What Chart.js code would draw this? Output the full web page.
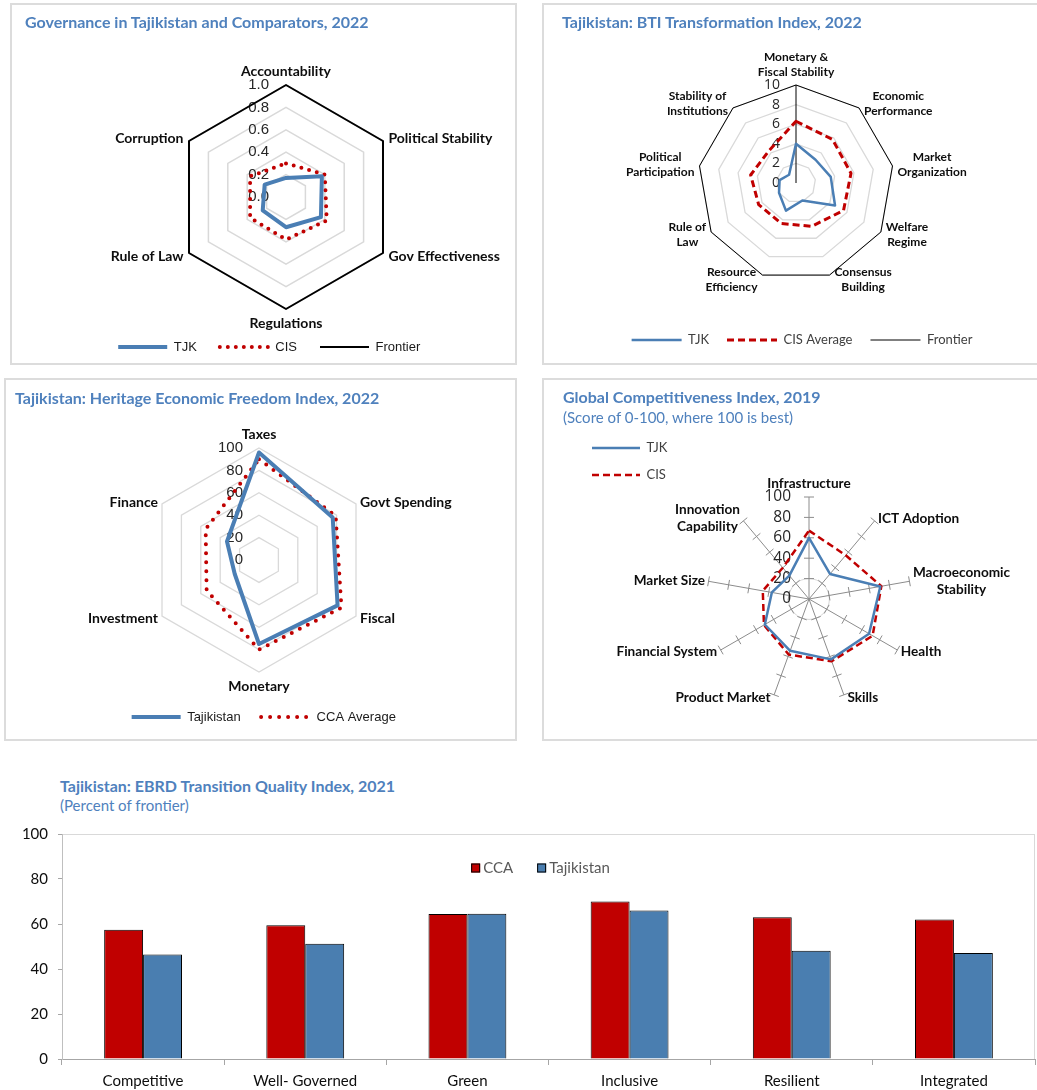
<!DOCTYPE html>
<html>
<head>
<meta charset="utf-8">
<script src="https://cdn.jsdelivr.net/npm/chart.js@4.4.0/dist/chart.umd.min.js"></script>
<style>
  body { margin: 0; width: 1037px; height: 1090px; overflow: hidden; background: #fff; position: relative; font-family: Lato, sans-serif; }
  .panel { position: absolute; overflow: hidden; box-shadow: inset 0 0 0 2px #dcdcdc; }
  .panel canvas { position: absolute; left: 0; top: 0; }
  .ttl { position: absolute; font: bold 16px Lato, sans-serif; line-height: 18px; color: #4F81BD; white-space: nowrap; }
  .sub { position: absolute; font: 15px Lato, sans-serif; line-height: 18px; color: #4F81BD; white-space: nowrap; }
</style>
</head>
<body>

<div class="panel" style="left:10px;top:3px;width:507px;height:362px"><canvas id="gov" width="507" height="362"></canvas></div>
<div class="panel" style="left:542px;top:3px;width:497px;height:362px"><canvas id="bti" width="497" height="362"></canvas></div>
<div class="panel" style="left:4px;top:378px;width:513px;height:363px"><canvas id="hef" width="513" height="363"></canvas></div>
<div class="panel" style="left:542px;top:378px;width:497px;height:363px"><canvas id="gci" width="497" height="363"></canvas></div>
<canvas id="ebrd" width="1037" height="275" style="position:absolute;left:0;top:815px"></canvas>

<div class="ttl" style="left:25px;top:13px">Governance in Tajikistan and Comparators, 2022</div>
<div class="ttl" style="left:562px;top:13px">Tajikistan: BTI Transformation Index, 2022</div>
<div class="ttl" style="left:15px;top:389px">Tajikistan: Heritage Economic Freedom Index, 2022</div>
<div class="ttl" style="left:563px;top:388px">Global Competitiveness Index, 2019</div>
<div class="sub" style="left:563px;top:408px">(Score of 0-100, where 100 is best)</div>
<div class="ttl" style="left:60px;top:777px">Tajikistan: EBRD Transition Quality Index, 2021</div>
<div class="sub" style="left:60px;top:796px">(Percent of frontier)</div>

<script>
// Governance indicators (0-1 scale)
var govCats = ['Accountability', 'Political Stability', 'Gov Effectiveness', 'Regulations', 'Rule of Law', 'Corruption'];
var govTJK = [0.17, 0.37, 0.36, 0.27, 0.24, 0.22];
var govCIS = [0.30, 0.40, 0.42, 0.38, 0.37, 0.37];
var govFrontier = [1, 1, 1, 1, 1, 1];

// BTI transformation index (0-10)
var btiCats = [['Monetary &', 'Fiscal Stability'], ['Economic', 'Performance'], ['Market', 'Organization'], ['Welfare', 'Regime'],
  ['Consensus', 'Building'], ['Resource', 'Efficiency'], ['Rule of', 'Law'], ['Political', 'Participation'], ['Stability of', 'Institutions']];
var btiTJK = [4.0, 3.1, 3.6, 4.6, 1.9, 3.0, 2.0, 1.7, 1.1];
var btiCIS = [6.3, 5.8, 5.7, 5.6, 4.7, 4.4, 4.4, 4.7, 4.3];
var btiFrontier = [10, 10, 10, 10, 10, 10, 10, 10, 10];

// Heritage economic freedom (0-100)
var hefCats = ['Taxes', 'Govt Spending', 'Fiscal', 'Monetary', 'Investment', 'Finance'];
var hefTJK = [96, 76, 81, 75, 25, 33];
var hefCCA = [90, 79, 85, 80, 54, 55];

// Global competitiveness index 2019 (0-100)
var gciCats = ['Infrastructure', 'ICT Adoption', ['Macroeconomic', 'Stability'], 'Health', 'Skills', 'Product Market',
  'Financial System', 'Market Size', ['Innovation', 'Capability']];
var gciTJK = [60, 32, 71, 68, 63, 54, 50, 37, 30];
var gciCIS = [67, 56, 72, 72, 65, 58, 51, 46, 40];

// EBRD transition quality (percent of frontier)
var ebrdCats = ['Competitive', 'Well- Governed', 'Green', 'Inclusive', 'Resilient', 'Integrated'];
var ebrdCCA = [57.5, 59.5, 64.5, 70.0, 63.0, 62.0];
var ebrdTJK = [46.5, 51.2, 64.6, 66.0, 48.1, 47.1];

var BLUE = '#4A7EB4', RED = '#C00000';

// put the radar centre and radius where the excel chart has them
function place(cx, cy, r) {
  return function(s) { s.xCenter = cx; s.yCenter = cy; s.drawingArea = r; };
}

// legend entries drawn as line samples with the dataset's dash
function lineLegend(color) {
  return function(chart) {
    return chart.data.datasets.map(function(d, i) {
      return {
        text: d.label, fontColor: color, fillStyle: 'rgba(0,0,0,0)',
        strokeStyle: d.borderColor, lineWidth: d.borderWidth,
        lineDash: d.borderDash || [], lineCap: d.borderCapStyle || 'butt',
        pointStyle: 'line', hidden: false, datasetIndex: i
      };
    });
  };
}

// value labels beside the axis, category labels and spoke ticks
var radarText = {
  id: 'radarText',
  beforeDatasetsDraw: function(chart, args, o) {
    var s = chart.scales.r, ctx = chart.ctx;
    ctx.save();
    if (o.crossLen) {
      ctx.strokeStyle = '#8c8c8c';
      ctx.lineWidth = 1;
      s.ticks.forEach(function(t) {
        if (t.value <= s.min) return;
        chart.data.labels.forEach(function(l, i) {
          var p = s.getPointPositionForValue(i, t.value);
          var a = s.getIndexAngle(i) - Math.PI / 2;
          var dx = -Math.sin(a) * o.crossLen, dy = Math.cos(a) * o.crossLen;
          ctx.beginPath();
          ctx.moveTo(p.x - dx, p.y - dy);
          ctx.lineTo(p.x + dx, p.y + dy);
          ctx.stroke();
        });
      });
    }
    ctx.font = o.tickFont;
    ctx.fillStyle = '#262626';
    ctx.textAlign = 'right';
    ctx.textBaseline = 'middle';
    s.ticks.forEach(function(t) {
      ctx.fillText(t.value.toFixed(o.decimals || 0), s.xCenter - o.tickDx, s.yCenter - s.getDistanceFromCenterForValue(t.value));
    });
    ctx.restore();
  },
  afterDraw: function(chart, args, o) {
    var s = chart.scales.r, ctx = chart.ctx;
    ctx.save();
    ctx.font = o.font;
    ctx.fillStyle = '#0d0d0d';
    ctx.textAlign = 'center';
    ctx.textBaseline = 'middle';
    chart.data.labels.forEach(function(lab, i) {
      var lines = [].concat(lab);
      var p = s.getPointPosition(i, s.drawingArea);
      var a = s.getIndexAngle(i);
      var sx = Math.sin(a), cy = Math.cos(a);
      var w = Math.max.apply(null, lines.map(function(t) { return ctx.measureText(t).width; }));
      var h = lines.length * o.lineHeight;
      var x, top;
      if (Math.abs(sx) < 0.3) {
        x = p.x;
        top = cy > 0 ? p.y - o.gapY - h : p.y + o.gapY;
      } else {
        x = p.x + Math.sign(sx) * (o.gapX + w / 2);
        top = p.y - cy * o.shiftY - h / 2;
      }
      lines.forEach(function(t, k) { ctx.fillText(t, x, top + o.lineHeight * (k + 0.5)); });
    });
    ctx.restore();
  }
};

function radarLine(label, data, color, width, dash, cap) {
  return {
    label: label, data: data, borderColor: color, borderWidth: width, borderDash: dash || [],
    borderCapStyle: cap || 'butt', borderJoinStyle: 'round', fill: false, pointRadius: 0, tension: 0
  };
}

var base = { responsive: false, animation: false, events: [] };

// 1. governance
new Chart(document.getElementById('gov'), {
  type: 'radar',
  data: {
    labels: govCats,
    datasets: [
      radarLine('TJK', govTJK, BLUE, 4),
      radarLine('CIS', govCIS, RED, 4, [0, 8], 'round'),
      radarLine('Frontier', govFrontier, '#000', 2)
    ]
  },
  options: Object.assign({}, base, {
    layout: { padding: { left: 11.5, bottom: 1.5 } },
    scales: {
      r: {
        min: 0, max: 1,
        ticks: { display: false, stepSize: 0.2 },
        grid: { color: '#d9d9d9', lineWidth: 1.5 },
        angleLines: { display: false },
        pointLabels: { display: false },
        afterFit: place(276, 194, 112)
      }
    },
    plugins: {
      legend: {
        position: 'bottom',
        labels: { usePointStyle: true, pointStyleWidth: 49, padding: 23, font: { family: 'Liberation Sans', size: 13 }, generateLabels: lineLegend('#1a1a1a') }
      },
      tooltip: { enabled: false },
      radarText: { font: 'bold 14px Lato', lineHeight: 16, gapX: 5.5, gapY: 6, shiftY: 6, tickFont: '15px "Liberation Sans"', tickDx: 17, decimals: 1 }
    }
  }),
  plugins: [radarText]
});

// 2. BTI
new Chart(document.getElementById('bti'), {
  type: 'radar',
  data: {
    labels: btiCats,
    datasets: [
      radarLine('TJK', btiTJK, BLUE, 2.5),
      radarLine('CIS Average', btiCIS, RED, 3, [7, 4]),
      radarLine('Frontier', btiFrontier, '#000', 1)
    ]
  },
  options: Object.assign({}, base, {
    layout: { padding: { left: 23, bottom: 8.5 } },
    scales: {
      r: {
        min: 0, max: 10,
        ticks: { display: false, stepSize: 2 },
        grid: { color: '#d9d9d9', lineWidth: 1.3 },
        angleLines: { color: function(c) { return c.index === 0 ? '#000' : 'rgba(0,0,0,0)'; }, lineWidth: 1 },
        pointLabels: { display: false },
        afterFit: place(254, 180, 98)
      }
    },
    plugins: {
      legend: {
        position: 'bottom',
        labels: { usePointStyle: true, pointStyleWidth: 50, padding: 18, font: { family: 'Lato', size: 13 }, generateLabels: lineLegend('#404040') }
      },
      tooltip: { enabled: false },
      radarText: { font: 'bold 12px Lato', lineHeight: 15, gapX: 5, gapY: 5.5, shiftY: 5, tickFont: '14px "Open Sans"', tickDx: 16 }
    }
  }),
  plugins: [radarText]
});

// 3. Heritage
new Chart(document.getElementById('hef'), {
  type: 'radar',
  data: {
    labels: hefCats,
    datasets: [
      radarLine('Tajikistan', hefTJK, BLUE, 4),
      radarLine('CCA Average', hefCCA, RED, 4, [0, 9], 'round')
    ]
  },
  options: Object.assign({}, base, {
    layout: { padding: { left: 6.5, bottom: 7.5 } },
    scales: {
      r: {
        min: 0, max: 100,
        ticks: { display: false, stepSize: 20 },
        grid: { color: '#d9d9d9', lineWidth: 1.3 },
        angleLines: { display: false },
        pointLabels: { display: false },
        afterFit: place(255, 182, 112)
      }
    },
    plugins: {
      legend: {
        position: 'bottom',
        labels: { usePointStyle: true, pointStyleWidth: 49, padding: 20.5, font: { family: 'Liberation Sans', size: 13 }, generateLabels: lineLegend('#1a1a1a') }
      },
      tooltip: { enabled: false },
      radarText: { font: 'bold 14px Lato', lineHeight: 16, gapX: 4, gapY: 6, shiftY: 4, tickFont: '15px "Liberation Sans"', tickDx: 16 }
    }
  }),
  plugins: [radarText]
});

// 4. GCI
new Chart(document.getElementById('gci'), {
  type: 'radar',
  data: {
    labels: gciCats,
    datasets: [
      radarLine('TJK', gciTJK, BLUE, 2.5),
      radarLine('CIS', gciCIS, RED, 2.5, [7, 4])
    ]
  },
  options: Object.assign({}, base, {
    layout: { padding: { left: 36, top: 49.5 } },
    scales: {
      r: {
        min: 0, max: 100,
        ticks: { display: false, stepSize: 20 },
        grid: { circular: true, color: function(c) { return c.tick && c.tick.value === 20 ? '#d6d6d6' : 'rgba(0,0,0,0)'; }, lineWidth: 1 },
        angleLines: { color: '#8c8c8c', lineWidth: 1 },
        pointLabels: { display: false },
        afterFit: place(267, 221, 102)
      }
    },
    plugins: {
      legend: {
        position: 'left', align: 'start',
        labels: { usePointStyle: true, pointStyleWidth: 48, padding: 14, font: { family: 'Lato', size: 13 }, generateLabels: lineLegend('#404040') }
      },
      tooltip: { enabled: false },
      radarText: { font: 'bold 13.6px Lato', lineHeight: 17, gapX: 3.5, gapY: 4.5, shiftY: 3, tickFont: '15.5px "Open Sans"', tickDx: 18, crossLen: 5 }
    }
  }),
  plugins: [radarText]
});

// 5. EBRD bars
var frame = {
  id: 'frame',
  beforeDraw: function(chart) {
    var a = chart.chartArea, ctx = chart.ctx;
    ctx.save();
    ctx.strokeStyle = '#d9d9d9';
    ctx.lineWidth = 1;
    ctx.strokeRect(a.left + 0.5, a.top + 0.5, a.right - a.left - 1, a.bottom - a.top);
    ctx.restore();
  }
};

var innerLegend = {
  id: 'innerLegend',
  afterDatasetsDraw: function(chart, args, o) {
    var ctx = chart.ctx, a = chart.chartArea;
    ctx.save();
    ctx.font = o.font;
    ctx.textBaseline = 'middle';
    var items = chart.data.datasets.map(function(d) {
      return { text: d.label, color: d.backgroundColor, w: ctx.measureText(d.label).width };
    });
    var total = items.reduce(function(t, it) { return t + o.box + o.gap + it.w; }, 0) + o.spacing * (items.length - 1);
    var x = (a.left + a.right) / 2 + o.dx - total / 2;
    var y = a.top + o.dy;
    items.forEach(function(it) {
      ctx.fillStyle = it.color;
      ctx.fillRect(x, y - o.box / 2, o.box, o.box);
      ctx.strokeStyle = '#000';
      ctx.lineWidth = 1;
      ctx.strokeRect(x + 0.5, y - o.box / 2 + 0.5, o.box - 1, o.box - 1);
      ctx.fillStyle = o.color;
      ctx.fillText(it.text, x + o.box + o.gap, y);
      x += o.box + o.gap + it.w + o.spacing;
    });
    ctx.restore();
  }
};

new Chart(document.getElementById('ebrd'), {
  type: 'bar',
  data: {
    labels: ebrdCats,
    datasets: [
      { label: 'CCA', data: ebrdCCA, backgroundColor: RED, borderColor: '#000', borderWidth: 1 },
      { label: 'Tajikistan', data: ebrdTJK, backgroundColor: '#4A7EB0', borderColor: '#000', borderWidth: 1 }
    ]
  },
  options: Object.assign({}, base, {
    layout: { padding: { top: 14, right: 2, left: 0, bottom: 0 } },
    datasets: { bar: { categoryPercentage: 0.48, barPercentage: 1 } },
    scales: {
      x: {
        grid: { drawOnChartArea: false, color: '#a6a6a6', tickLength: 6 },
        border: { color: '#a6a6a6' },
        ticks: { font: { family: 'Lato', size: 15 }, color: '#0d0d0d', padding: 7, maxRotation: 0 },
        afterFit: function(s) { s.height = 31; }
      },
      y: {
        min: 0, max: 100,
        ticks: { stepSize: 20, font: { family: 'Lato', size: 15 }, color: '#0d0d0d', padding: 10 },
        grid: { drawOnChartArea: false, color: '#a6a6a6', tickLength: 4 },
        border: { color: '#bfbfbf' },
        afterFit: function(s) { s.width = 62; }
      }
    },
    plugins: {
      legend: { display: false },
      tooltip: { enabled: false },
      innerLegend: { font: '15px Lato', color: '#595959', box: 9, gap: 3, spacing: 24, dx: -8, dy: 34 }
    }
  }),
  plugins: [frame, innerLegend]
});
</script>
</body>
</html>
